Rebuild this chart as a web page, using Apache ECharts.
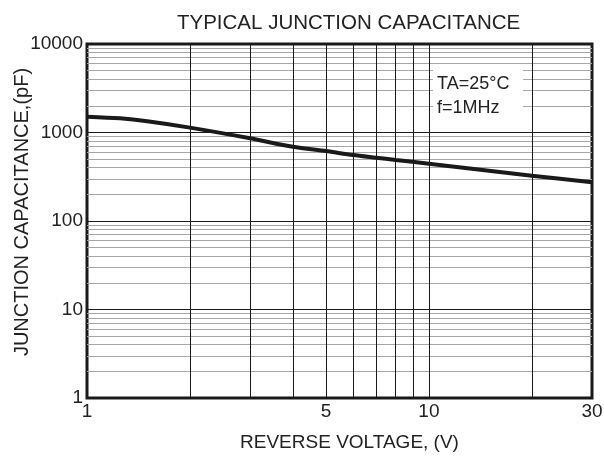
<!DOCTYPE html>
<html>
<head>
<meta charset="utf-8">
<script src="https://cdn.jsdelivr.net/npm/echarts@6/dist/echarts.min.js"></script>
<style>
html,body{margin:0;padding:0;background:#fff;}
#c{width:604px;height:457px;}
</style>
</head>
<body>
<div id="c"></div>
<script>
// Curve data
var voltage = [1, 1.25, 1.5, 2, 3, 4, 5, 6, 7, 8, 10, 20, 30];
var capacitance = [1510, 1445, 1340, 1135, 860, 690, 617, 557, 519, 489, 444, 325, 274];
// Axis tick labels / grid values
var xLabelValues = [1, 5, 10, 30];
var xGridValues = [2, 3, 4, 5, 6, 7, 8, 9, 10, 20];
var yMinorValues = [2,3,4,5,6,7,8,9, 20,30,40,50,60,70,80,90, 200,300,400,500,600,700,800,900, 2000,3000,4000,5000,6000,7000,8000,9000];

var FONT = 'Liberation Sans, Arial, sans-serif';
var chart = echarts.init(document.getElementById('c'), null, {renderer: 'canvas'});

var seriesData = voltage.map(function (v, i) { return [v, capacitance[i]]; });

var option = {
  animation: false,
  backgroundColor: '#fff',
  title: {
    text: 'TYPICAL JUNCTION CAPACITANCE',
    left: 172, top: 8,
    textStyle: {fontFamily: FONT, fontSize: 20.5, fontWeight: 'normal', color: '#222'}
  },
  grid: {
    left: 87, right: 12, top: 44, bottom: 59,
    outerBoundsMode: 'none', containLabel: false,
    show: true, borderColor: '#1a1a1a', borderWidth: 3, backgroundColor: 'transparent'
  },
  xAxis: {
    type: 'log', min: 1, max: 30, logBase: 10,
    name: 'REVERSE VOLTAGE, (V)', nameLocation: 'middle', nameGap: 35, nameMoveOverlap: false,
    nameTextStyle: {fontFamily: FONT, fontSize: 19, color: '#222', padding: [0, 0, 0, 20]},
    axisLine: {show: false},
    axisTick: {show: false},
    splitLine: {show: false},
    axisLabel: {customValues: xLabelValues, fontFamily: FONT, fontSize: 19, color: '#222', margin: 4,
      formatter: function (v) { return String(Math.round(v)); }}
  },
  yAxis: {
    type: 'log', min: 1, max: 10000, logBase: 10,
    name: 'JUNCTION CAPACITANCE,(pF)', nameLocation: 'middle', nameGap: 55, nameMoveOverlap: false,
    nameTextStyle: {fontFamily: FONT, fontSize: 20, color: '#222', padding: [0, 0, 0, 18]},
    axisLine: {show: false},
    axisTick: {show: false},
    splitLine: {show: true, lineStyle: {color: '#1a1a1a', width: 1}},
    axisLabel: {fontFamily: FONT, fontSize: 19, color: '#222', margin: 4,
      formatter: function (v) { return String(Math.round(v)); }}
  },
  series: [
    {
      type: 'line', data: [], z: 1, silent: true,
      markLine: {
        silent: true, symbol: ['none', 'none'], label: {show: false},
        animation: false,
        data: yMinorValues.map(function (v) {
          return {yAxis: v, lineStyle: {color: '#a6a6a6', width: 1, type: 'solid'}};
        }).concat(xGridValues.map(function (v) {
          return {xAxis: v, lineStyle: {color: '#1a1a1a', width: 1, type: 'solid'}};
        }))
      }
    },
    {
      type: 'line', data: seriesData, smooth: 0.3, showSymbol: false, z: 5,
      lineStyle: {color: '#1a1a1a', width: 4}
    }
  ],
  graphic: [
    {type: 'rect', z: 100, shape: {x: 433, y: 66, width: 90, height: 52}, style: {fill: '#fff'}},
    {type: 'text', z: 101, left: 437, top: 75, style: {text: 'TA=25\u00B0C', font: '18px ' + FONT, fill: '#222'}},
    {type: 'text', z: 101, left: 437, top: 99, style: {text: 'f=1MHz', font: '18px ' + FONT, fill: '#222'}}
  ]
};
chart.setOption(option);
</script>
</body>
</html>
